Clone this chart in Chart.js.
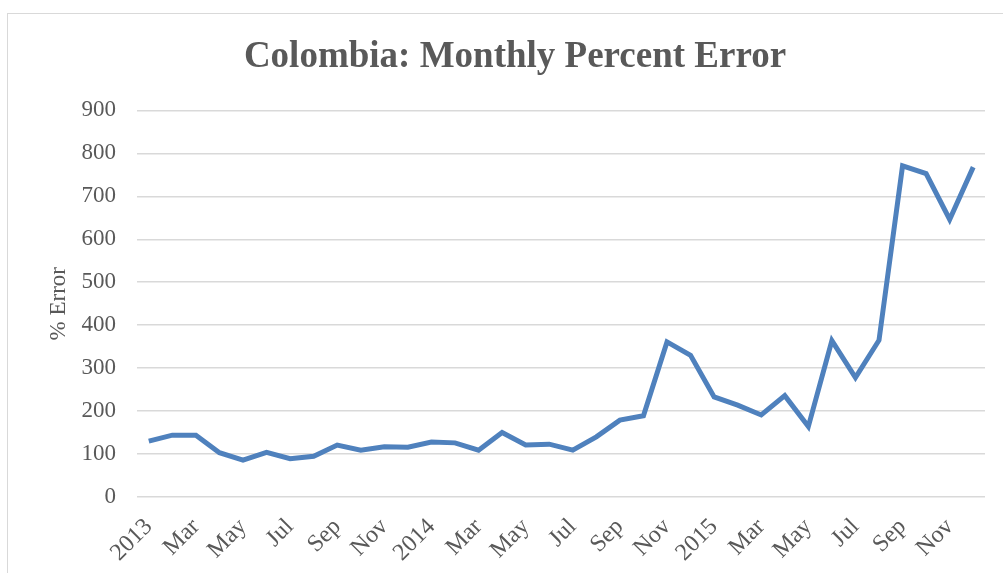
<!DOCTYPE html>
<html lang="en">
<head>
    <meta charset="UTF-8">
    <script src="https://cdn.jsdelivr.net/npm/chart.js"></script>
    <title>Colombia: Monthly Percent Error</title>
    <style>
        body {
            margin: 0;
            background: #ffffff;
            font-family: "Liberation Serif", serif;
        }
        .frame {
            position: absolute;
            left: 7px;
            top: 13px;
            width: 1010px;
            height: 580px;
            border: 1px solid #d9d9d9;
            box-sizing: border-box;
        }
        .wrap {
            position: absolute;
            left: 0;
            top: 0;
            width: 1003px;
            height: 573px;
        }
    </style>
</head>
<body>
    <div class="frame"></div>
    <div class="wrap">
        <canvas id="errorChart"></canvas>
    </div>

    <script>
        // Months Jan 2013 .. Dec 2015
        const months = [
            '2013', 'Feb', 'Mar', 'Apr', 'May', 'Jun', 'Jul', 'Aug', 'Sep', 'Oct', 'Nov', 'Dec',
            '2014', 'Feb', 'Mar', 'Apr', 'May', 'Jun', 'Jul', 'Aug', 'Sep', 'Oct', 'Nov', 'Dec',
            '2015', 'Feb', 'Mar', 'Apr', 'May', 'Jun', 'Jul', 'Aug', 'Sep', 'Oct', 'Nov', 'Dec'
        ];

        // % error values
        const percentError = [
            130, 144, 144, 103, 86, 104, 89, 95, 121, 109, 117, 116,
            128, 126, 109, 150, 121, 123, 109, 140, 179, 189, 361, 330,
            233, 214, 191, 236, 164, 364, 278, 365, 771, 753, 646, 768
        ];

        const yTicks = [0, 100, 200, 300, 400, 500, 600, 700, 800, 900];

        const textColor = '#595959';
        const gridColor = '#d9d9d9';

        const ctx = document.getElementById('errorChart').getContext('2d');
        const chart = new Chart(ctx, {
            type: 'line',
            data: {
                labels: months,
                datasets: [{
                    label: '% Error',
                    data: percentError,
                    borderColor: '#4f81bd',
                    borderWidth: 5,
                    pointRadius: 0,
                    tension: 0,
                    fill: false
                }]
            },
            options: {
                responsive: true,
                maintainAspectRatio: false,
                animation: false,
                layout: {
                    padding: { left: 45, right: 18, top: 0, bottom: 0 }
                },
                plugins: {
                    legend: { display: false },
                    tooltip: { enabled: false },
                    title: {
                        display: true,
                        text: 'Colombia: Monthly Percent Error',
                        color: textColor,
                        font: { family: 'Liberation Serif', size: 37, weight: 'bold' },
                        padding: { top: 35, bottom: 31 }
                    }
                },
                scales: {
                    x: {
                        offset: true,
                        grid: { display: false },
                        border: { display: false },
                        ticks: {
                            autoSkip: false,
                            maxRotation: 45,
                            minRotation: 45,
                            color: textColor,
                            font: { family: 'Liberation Serif', size: 24 },
                            padding: 8,
                            callback: function (value, index) {
                                return index % 2 === 0 ? months[index] : '';
                            }
                        },
                        afterFit: function (scale) {
                            scale.height = 76;
                        }
                    },
                    y: {
                        min: 0,
                        max: 900,
                        afterBuildTicks: function (scale) {
                            scale.ticks = yTicks.map(v => ({ value: v }));
                        },
                        grid: {
                            color: gridColor,
                            lineWidth: 1.5,
                            drawTicks: false
                        },
                        border: { display: false },
                        title: {
                            display: true,
                            text: '% Error',
                            color: textColor,
                            font: { family: 'Liberation Serif', size: 23 },
                            padding: { top: 0, bottom: 0 }
                        },
                        ticks: {
                            color: textColor,
                            font: { family: 'Liberation Serif', size: 23 },
                            padding: 21
                        },
                        afterFit: function (scale) {
                            scale.width = 92;
                        }
                    }
                }
            }
        });
    </script>
</body>
</html>
